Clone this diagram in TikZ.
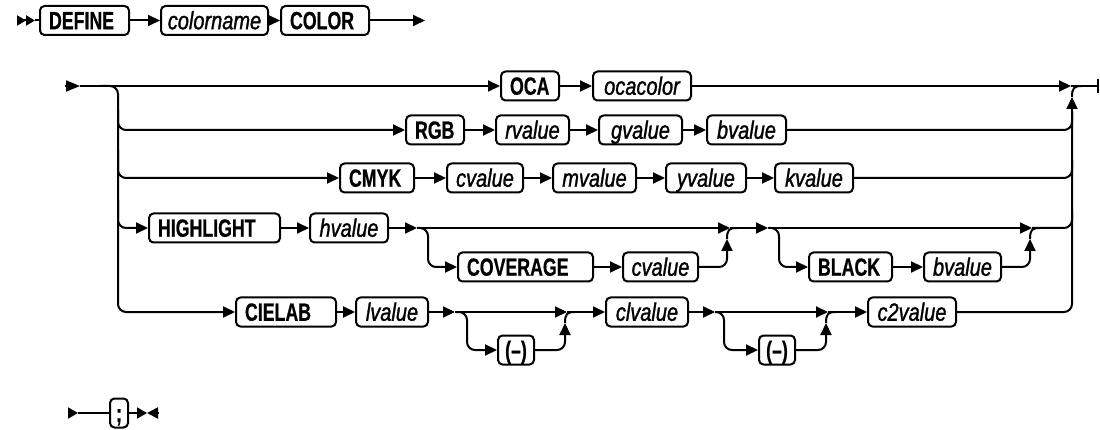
\documentclass[tikz,border=0pt]{standalone}
\usepackage{fontspec}
\usetikzlibrary{arrows.meta}
\newfontfamily\kwfont[FakeStretch=0.71,FakeBold=0.6]{Liberation Sans}
\newfontfamily\varfont[FakeStretch=0.8,FakeBold=1.2]{Liberation Sans}
\begin{document}
\begin{tikzpicture}[x=1pt,y=-1pt,
  ln/.style={line width=2pt},
  arr/.style={ln,-{Triangle[length=12pt,width=11pt]}},
  rc/.style={rounded corners=8pt},
  box/.style={draw,line width=2pt,rounded corners=4.5pt,minimum height=29pt,inner ysep=0pt,text height=17.5pt,text depth=0pt,anchor=west},
  kw/.style={box,font=\kwfont\bfseries\fontsize{25}{27}\selectfont,text width=#1,align=left,inner xsep=9pt},
  var/.style={box,font=\varfont\itshape\fontsize{25}{27}\selectfont,minimum width=#1,inner xsep=1pt},
  sym/.style={box,font=\kwfont\bfseries\fontsize{25}{27}\selectfont,minimum width=#1,inner xsep=1pt},
]
\useasboundingbox (0,0) rectangle (1100,430);

% ---- row 1
\node[kw=71pt] (define) at (39,20.5) {DEFINE};
\node[var=107pt] (colorname) at (160,20.5) {colorname};
\node[kw=70pt] (color) at (280,20.5) {COLOR};
% ---- OCA row
\node[kw=40pt] (oca) at (500,86) {OCA};
\node[var=98pt] (ocacolor) at (592,86) {ocacolor};
% ---- RGB row
\node[kw=40pt] (rgb) at (405,130) {RGB};
\node[var=73pt] (rvalue) at (495,130) {rvalue};
\node[var=83pt] (gvalue) at (598,130) {gvalue};
\node[var=79pt] (bvalue) at (706,130) {bvalue};
% ---- CMYK row
\node[kw=56pt] (cmyk) at (339,178) {CMYK};
\node[var=76pt] (cvalue) at (446,178) {cvalue};
\node[var=83pt] (mvalue) at (552,178) {mvalue};
\node[var=80pt] (yvalue) at (665,178) {yvalue};
\node[var=78pt] (kvalue) at (774,178) {kvalue};
% ---- HIGHLIGHT rows
\node[kw=113pt] (highlight) at (148,228) {HIGHLIGHT};
\node[var=78pt] (hvalue) at (309,228) {hvalue};
\node[kw=117pt] (coverage) at (457,267) {COVERAGE};
\node[var=75pt] (cvalueB) at (622,267) {cvalue};
\node[kw=65pt] (black) at (808,267) {BLACK};
\node[var=77pt] (bvalueB) at (923,267) {bvalue};
% ---- CIELAB rows
\node[kw=82pt] (cielab) at (235,312) {CIELAB};
\node[var=72pt] (lvalue) at (355,312) {lvalue};
\node[var=82pt] (clvalue) at (605,312) {clvalue};
\node[var=88pt] (ctwovalue) at (867,312) {c2value};
\node[sym=36pt] (minusA) at (497,350) {(–)};
\node[sym=36pt] (minusB) at (758,350) {(–)};
% ---- last row
\node[sym=18pt] (semi) at (109,413) {;};

% coordinates
\coordinate (s1) at (17,20.5);
\coordinate (s1t) at (35,20.5);
\coordinate (e1) at (425,20.5);
\coordinate (s2) at (65,86);
\coordinate (s2t) at (80,86);
\coordinate (Lt) at (100,86);
\coordinate (Rj) at (1071,86);
\coordinate (endR) at (1098,86);
\coordinate (h1) at (417,228);
\coordinate (h2) at (730,228);
\coordinate (h3) at (768,228);
\coordinate (h4) at (1032,228);
\coordinate (c1) at (455,312);
\coordinate (c2) at (567,312);
\coordinate (c3) at (715,312);
\coordinate (c4) at (828,312);
\coordinate (s3) at (68,413);
\coordinate (s3t) at (78,413);
\coordinate (e3) at (147,413);
\coordinate (e3b) at (158,413);

% ---- row 1 connectors
\draw[ln,-{Triangle[length=9pt,width=10pt]Triangle[length=9pt,width=10pt]}] (s1) -- (s1t);
\draw[ln] (s1t) -- (define.west);
\draw[arr] (define.east) -- (colorname.west);
\draw[arr] (colorname.east) -- (color.west);
\draw[arr] (color.east) -- (e1);

% ---- main row
\draw[ln,-{Triangle[length=14pt,width=11pt]}] (s2) -- (s2t);
\draw[arr] (s2t) -- (oca.west);
\draw[arr] (oca.east) -- (ocacolor.west);
\draw[arr] (ocacolor.east) -- (Rj);
\draw[ln] (Rj) -- (endR);
\draw[ln] (endR) ++(0,-7) -- ++(0,14);

% ---- left vertical and branches
\draw[arr,rc] (Lt) -- (118,86) -- (118,312) -- (cielab.west);
\draw[arr,rc] (118,110) -- (118,130) -- (rgb.west);
\draw[arr,rc] (118,150) -- (118,178) -- (cmyk.west);
\draw[arr,rc] (118,200) -- (118,228) -- (highlight.west);

% ---- RGB / CMYK rows
\draw[arr] (rgb.east) -- (rvalue.west);
\draw[arr] (rvalue.east) -- (gvalue.west);
\draw[arr] (gvalue.east) -- (bvalue.west);
\draw[arr] (cmyk.east) -- (cvalue.west);
\draw[arr] (cvalue.east) -- (mvalue.west);
\draw[arr] (mvalue.east) -- (yvalue.west);
\draw[arr] (yvalue.east) -- (kvalue.west);

% ---- right vertical and joins
\draw[arr,rc] (ctwovalue.east) -- (1072,312) -- (1072,97);
\draw[ln] (1072,97) .. controls (1072,88) and (1074,86) .. (1082,86);
\draw[ln,rc] (bvalue.east) -- (1072,130) -- (1072,112);
\draw[ln,rc] (kvalue.east) -- (1072,178) -- (1072,160);
\draw[ln,rc] (h4) -- (1072,228) -- (1072,210);

% ---- HIGHLIGHT rows
\draw[arr] (highlight.east) -- (hvalue.west);
\draw[arr] (hvalue.east) -- (h1);
\draw[arr] (h1) -- (h2);
\draw[arr] (h2) -- (h3);
\draw[arr] (h3) -- (h4);
\draw[arr,rc] (h1) -- (428,228) -- (428,267) -- (coverage.west);
\draw[arr] (coverage.east) -- (cvalueB.west);
\draw[arr,rc] (cvalueB.east) -- (727,267) -- (727,239);
\draw[ln] (727,239) .. controls (727,230) and (729,228) .. (737,228);
\draw[arr,rc] (h3) -- (779,228) -- (779,267) -- (black.west);
\draw[arr] (black.east) -- (bvalueB.west);
\draw[arr,rc] (bvalueB.east) -- (1030,267) -- (1030,239);
\draw[ln] (1030,239) .. controls (1030,230) and (1032,228) .. (1040,228);

% ---- CIELAB rows
\draw[arr] (cielab.east) -- (lvalue.west);
\draw[arr] (lvalue.east) -- (c1);
\draw[arr] (c1) -- (c2);
\draw[arr] (c2) -- (clvalue.west);
\draw[arr] (clvalue.east) -- (c3);
\draw[arr] (c3) -- (c4);
\draw[arr] (c4) -- (ctwovalue.west);
\draw[arr,rc] (c1) -- (467,312) -- (467,350) -- (minusA.west);
\draw[arr,rc] (minusA.east) -- (565,350) -- (565,323);
\draw[ln] (565,323) .. controls (565,314) and (567,312) .. (575,312);
\draw[arr,rc] (c3) -- (724,312) -- (724,350) -- (minusB.west);
\draw[arr,rc] (minusB.east) -- (826,350) -- (826,323);
\draw[ln] (826,323) .. controls (826,314) and (828,312) .. (836,312);

% ---- last row
\draw[ln,-{Triangle[length=10pt,width=11pt]}] (s3) -- (s3t);
\draw[ln] (s3t) -- (semi.west);
\draw[ln,-{Triangle[length=10pt,width=11pt]}] (semi.east) -- (e3);
\draw[ln,-{Triangle[length=11pt,width=11pt]}] (e3b) -- (e3);
\end{tikzpicture}
\end{document}
